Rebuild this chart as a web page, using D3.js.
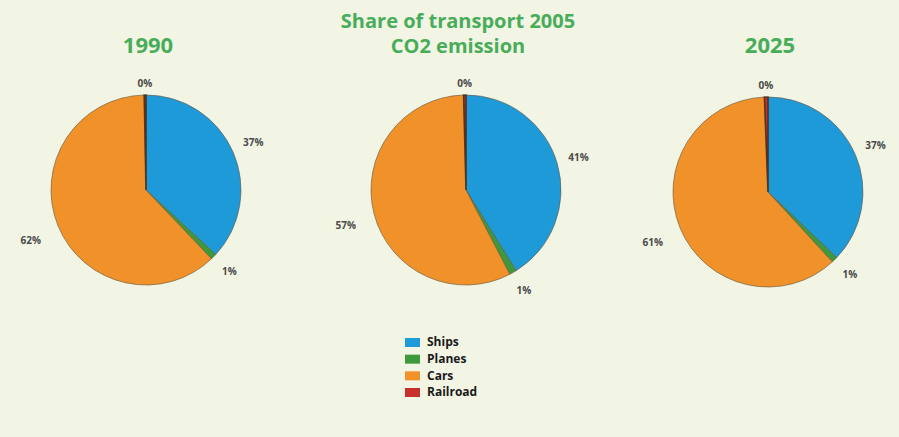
<!DOCTYPE html>
<html><head><meta charset="utf-8">
<script src="https://cdn.jsdelivr.net/npm/d3@7"></script>
<style>html,body{margin:0;padding:0;background:#f2f4e4;}svg{display:block;}</style>
</head><body>
<svg id="chart" width="899" height="437"></svg>
<script>
const categories = ["Ships", "Planes", "Cars", "Railroad"];
const years = ["1990", "2005", "2025"];
const values1990 = [37, 1, 62, 0.3];
const values2005 = [41, 1.2, 57, 0.4];
const values2025 = [37, 1, 61, 0.6];
const labels1990 = ["37%", "1%", "62%", "0%"];
const labels2005 = ["41%", "1%", "57%", "0%"];
const labels2025 = ["37%", "1%", "61%", "0%"];
const colors = ["#1e9ad9", "#3d9a3c", "#f0912a", "#c8302e"];

const series = [
  {year: years[0], values: values1990, labels: labels1990, cx: 146, cy: 190},
  {year: years[1], values: values2005, labels: labels2005, cx: 466, cy: 190},
  {year: years[2], values: values2025, labels: labels2025, cx: 768, cy: 192}
];

const svg = d3.select("#chart");
svg.append("rect").attr("width", 899).attr("height", 437).attr("fill", "#f2f4e4");

const color = d3.scaleOrdinal().domain(categories).range(colors);
const pie = d3.pie().sort(null).value(d => d.v);
const r = 95;
const arc = d3.arc().innerRadius(0).outerRadius(r);
const labelArc = d3.arc().innerRadius(r + 22).outerRadius(r + 22);
const titleColor = "#48ad5a";
const font = "'Open Sans', 'Noto Sans', sans-serif";

series.forEach(s => {
  const g = svg.append("g").attr("transform", `translate(${s.cx},${s.cy})`);
  const data = pie(categories.map((c, i) => ({c, v: s.values[i], label: s.labels[i]})));
  g.selectAll("path").data(data).join("path")
    .attr("d", arc)
    .attr("fill", d => color(d.data.c))
    .attr("stroke", d => d.data.c === "Railroad" ? "#3a2a1a" : "#6a5a40")
    .attr("stroke-width", d => d.data.c === "Railroad" ? 1.6 : 0.8)
    .attr("stroke-opacity", 0.8);
  g.selectAll("text").data(data).join("text")
    .attr("transform", d => {
      let [x, y] = labelArc.centroid(d);
      if (d.data.c === "Railroad") { y += 11; }
      else if (x < 0) { x -= 7; y += 7; }
      return `translate(${x},${y})`;
    })
    .attr("text-anchor", "middle")
    .attr("dominant-baseline", "middle")
    .attr("font-family", font)
    .attr("font-size", 10)
    .attr("font-weight", "bold")
    .attr("fill", "#4a4a4a")
    .text(d => d.data.label);
  if (s.year !== "2005") {
    svg.append("text")
      .attr("x", s.cx + 2).attr("y", 53)
      .attr("text-anchor", "middle")
      .attr("font-family", font)
      .attr("font-size", 22)
      .attr("font-weight", "bold")
      .attr("fill", titleColor)
      .text(s.year);
  }
});

svg.append("text").attr("x", 458).attr("y", 28)
  .attr("text-anchor", "middle").attr("font-family", font)
  .attr("font-size", 20).attr("font-weight", "bold").attr("fill", titleColor)
  .text("Share of transport 2005");
svg.append("text").attr("x", 458).attr("y", 53)
  .attr("text-anchor", "middle").attr("font-family", font)
  .attr("font-size", 20).attr("font-weight", "bold").attr("fill", titleColor)
  .text("CO2 emission");

const legend = svg.append("g").attr("transform", "translate(405,338)");
const ly = d3.scalePoint().domain(categories).range([0, 50]);
categories.forEach(c => {
  const row = legend.append("g").attr("transform", `translate(0,${ly(c)})`);
  row.append("rect").attr("width", 15).attr("height", 9).attr("fill", color(c));
  row.append("text").attr("x", 22).attr("y", 5).attr("dominant-baseline", "middle")
    .attr("font-family", font).attr("font-size", 12).attr("font-weight", "bold")
    .attr("fill", "#1a1a1a").text(c);
});
</script>
</body></html>
